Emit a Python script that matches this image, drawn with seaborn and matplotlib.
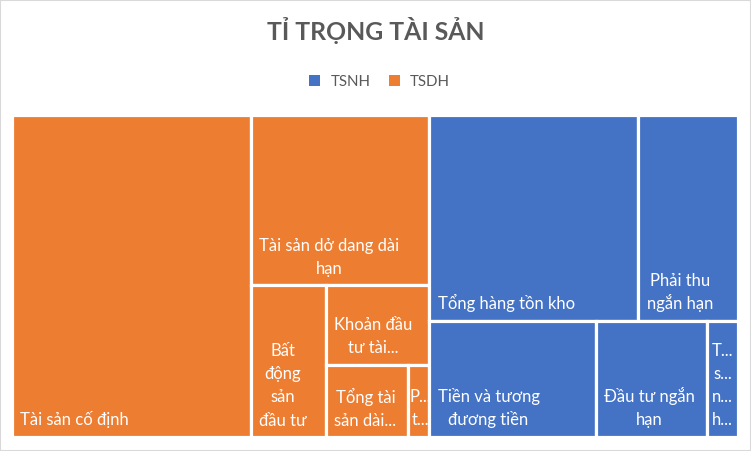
import matplotlib
matplotlib.use("Agg")
import matplotlib.pyplot as plt
import matplotlib.patches as mpatches
import pandas as pd
import seaborn as sns

# Data
groups = ["TSNH", "TSDH"]
group_colors = ["#4472C4", "#ED7D31"]

tsnh_items = ["Tổng hàng tồn kho", "Phải thu ngắn hạn", "Tiền và tương đương tiền",
              "Đầu tư ngắn hạn", "Tài sản ngắn hạn khác"]
tsnh_values = [427, 203, 192, 128, 36]
tsnh_labels = ["Tổng hàng tồn kho", "Phải thu\nngắn hạn", "Tiền và tương\nđương tiền",
               "Đầu tư ngắn\nhạn", "T...\ns...\nn...\nh..."]

tsdh_items = ["Tài sản cố định", "Tài sản dở dang dài hạn", "Bất động sản đầu tư",
              "Khoản đầu tư tài chính dài hạn", "Tổng tài sản dài hạn khác", "Phải thu dài hạn"]
tsdh_values = [763, 302, 113, 81, 59, 15]
tsdh_labels = ["Tài sản cố định", "Tài sản dở dang dài\nhạn", "Bất\nđộng\nsản\nđầu tư",
               "Khoản đầu\ntư tài...", "Tổng tài\nsản dài...", "P...\nt..."]

df = pd.concat([
    pd.DataFrame({"group": "TSNH", "item": tsnh_items, "value": tsnh_values, "label": tsnh_labels}),
    pd.DataFrame({"group": "TSDH", "item": tsdh_items, "value": tsdh_values, "label": tsdh_labels}),
], ignore_index=True)


def worst(row, side):
    s = sum(row)
    return max(max(side * side * r / (s * s), s * s / (side * side * r)) for r in row)


def squarify(areas, x, y, w, h):
    # squarified treemap, areas sorted descending and summing to w*h
    rects = []
    vals = list(areas)
    while vals:
        side = min(w, h)
        row = [vals[0]]
        i = 1
        while i < len(vals) and worst(row + [vals[i]], side) <= worst(row, side):
            row.append(vals[i])
            i += 1
        s = sum(row)
        if w >= h:
            cw = s / h
            yy = y
            for v in row:
                rects.append((x, yy, cw, v / cw))
                yy += v / cw
            x += cw
            w -= cw
        else:
            rh = s / w
            xx = x
            for v in row:
                rects.append((xx, y, v / rh, rh))
                xx += v / rh
            y += rh
            h -= rh
        vals = vals[i:]
    return rects


sns.set_theme(style="white")
plt.rcParams["font.family"] = ["Lato", "DejaVu Sans"]

fig = plt.figure(figsize=(7.51, 4.51), dpi=100)
ax = fig.add_axes([0, 0, 1, 1])
ax.set_xlim(0, 751)
ax.set_ylim(451, 0)
ax.axis("off")

# treemap area in pixel units
X0, Y0, W, H = 11.5, 114.5, 726.5, 322.5
totals = df.groupby("group")["value"].sum().sort_values(ascending=False)
g_areas = [v / totals.sum() * W * H for v in totals]
g_rects = squarify(g_areas, X0, Y0, W, H)

renderer = fig.canvas.get_renderer()
for g, (gx, gy, gw, gh) in zip(totals.index, g_rects):
    sub = df[df["group"] == g].sort_values("value", ascending=False)
    color = group_colors[groups.index(g)]
    areas = [v / sub["value"].sum() * gw * gh for v in sub["value"]]
    for (x, y, w, h), label in zip(squarify(areas, gx, gy, gw, gh), sub["label"]):
        patch = mpatches.Rectangle((x, y), w, h, facecolor=color, edgecolor="white", linewidth=2.3)
        ax.add_patch(patch)
        lines = label.split("\n")
        n = len(lines)
        texts = []
        for i, line in enumerate(lines):
            base = y + h - 11.5 - (n - 1 - i) * 23
            t = ax.text(x, base, line, ha="center", va="baseline", color="white", fontsize=12)
            t.set_clip_path(patch)
            texts.append(t)
        block = max(t.get_window_extent(renderer).width for t in texts)
        inset = min(8.5, max(1.5, 1.5 + (w - 3 - block) / 2))
        for t in texts:
            t.set_x(x + inset + block / 2)

ax.text(375.5, 39.5, "TỈ TRỌNG TÀI SẢN", ha="center", va="baseline",
        fontsize=17.8, fontweight="bold", color="#595959")

handles = [mpatches.Patch(facecolor=c, edgecolor="none", label=g) for g, c in zip(groups, group_colors)]
fig.legend(handles=handles, loc="center", bbox_to_anchor=(379.5 / 751, 1 - 81.5 / 451), ncol=2,
           frameon=False, fontsize=10.8, labelcolor="#595959", handlelength=0.75, handleheight=0.75,
           handletextpad=0.68, columnspacing=1.2)

fig.patches.append(mpatches.Rectangle((0, 0), 1, 1, transform=fig.transFigure, fill=False,
                                      edgecolor="#D9D9D9", linewidth=1.5))

fig.savefig("out.png", dpi=100)
